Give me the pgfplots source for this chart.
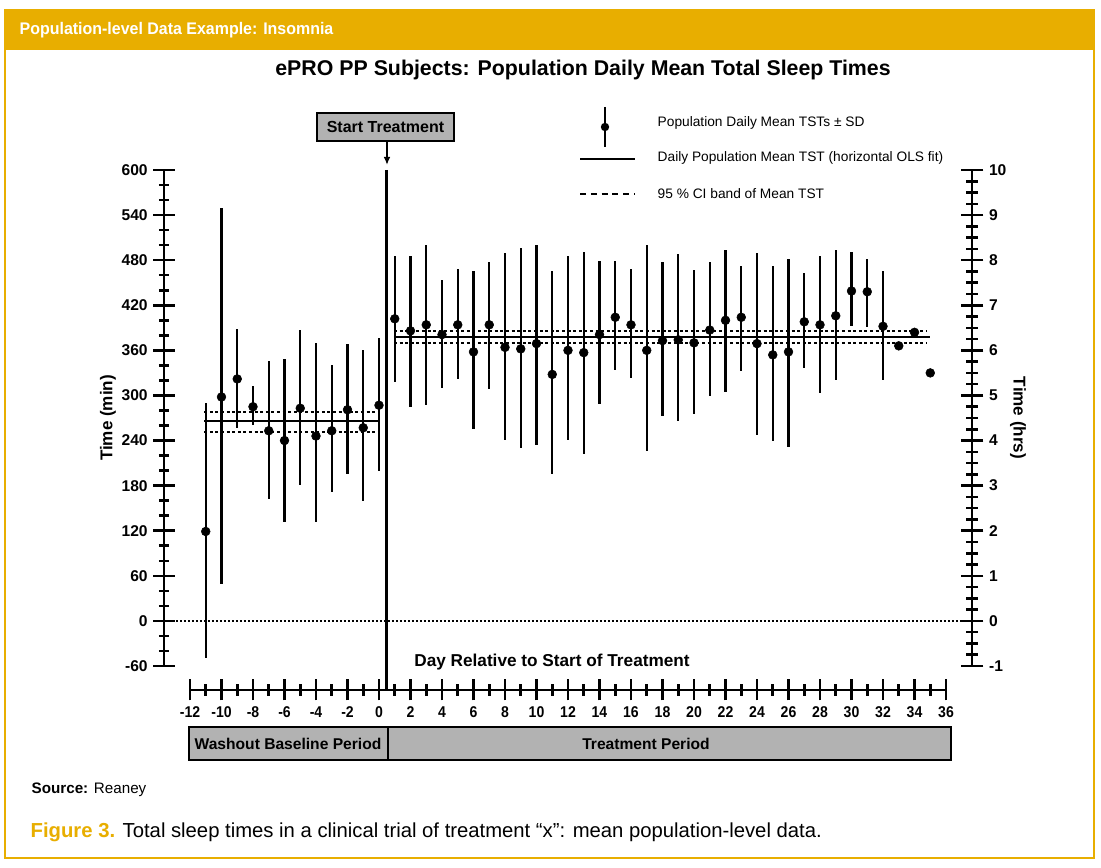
\documentclass[border=0pt]{standalone}
\usepackage{pgfplots}
\pgfplotsset{compat=1.18}
\usepackage{pgfplotstable}
\usetikzlibrary{arrows.meta}
\usepackage{fontspec}
\setmainfont{Liberation Sans}
\newfontfamily\cond[FakeStretch=0.9]{Liberation Sans}
\newfontfamily\hdr[FakeStretch=0.95]{Liberation Sans}
\definecolor{gold}{RGB}{232,174,0}
\definecolor{boxgray}{RGB}{178,178,178}
\pgfplotsset{
  thickticks/.style={
    line width=1.9pt,
    every tick/.style={line width=1.9pt, black},
    major tick style={line width=1.9pt, black},
    minor tick style={line width=1.9pt, black},
  }
}

\pgfplotstableread{
x y ep em
-11 119 171 169
-10 298 252 249
-9 322 66 65
-8 285 28 24
-7 253 93 91
-6 240 108 109
-5 283 104 102
-4 246 124 115
-3 253 88 82
-2 281 88 85
-1 257 104 98
0 287 90 87
}\baselinedata

\pgfplotstableread{
x y top bot
1 402 486 318
2 386 486 285
3 394 500 287
4 381 453 310
5 394 468 322
6 358 465 255
7 394 477 309
8 364 490 241
9 362 496 230
10 369 500 234
11 328 466 196
12 360 486 241
13 357 491 222
14 381 479 289
15 404 479 334
16 394 468 323
17 360 500 226
18 373 477 272
19 374 488 266
20 370 467 275
21 387 477 299
22 400 494 305
23 404 472 332
24 369 489 248
25 354 472 240
26 358 482 232
27 398 463 337
28 394 486 303
29 406 494 321
30 439 491 393
31 438 482 391
32 392 465 321
}\treatdata

\pgfplotstableread{
x y
33 366
34 384
35 330
}\treatnobar

\begin{document}
\begin{tikzpicture}[x=0.75pt,y=0.75pt]
\path[use as bounding box] (0,0) rectangle (1101,868);
\fill[white] (0,0) rectangle (1101,868);
\fill[gold] (5,858) rectangle (1094,818);
\draw[gold, line width=1.1pt] (5,858) rectangle (1094,10);
\node[anchor=west, text=white, font=\hdr\bfseries\fontsize{12.6}{14}\selectfont] at (15,838) {Population-level Data Example: Insomnia};
\node[font=\bfseries\fontsize{16}{19}\selectfont] at (583,798) {ePRO PP Subjects: Population Daily Mean Total Sleep Times};

% main data axis with left y axis (minutes)
\begin{axis}[
 at={(123pt,151.5pt)}, anchor=south west,
 scale only axis, width=606pt, height=372pt,
 xmin=-13.65, xmax=37.65, ymin=-60, ymax=600,
 axis x line=none, axis y line*=left,
 ytick={-60,0,...,600}, minor y tick num=2,
 yticklabels={-60,0,60,120,180,240,300,360,420,480,540,600},
 tick align=center,
 major tick length=16pt, minor tick length=7.5pt,
 thickticks,
 axis line style={line width=2.2pt, -},
 yticklabel style={font=\bfseries\fontsize{11.7}{13}\selectfont},
 clip=false,
]
\addplot[black, line width=1.1pt, dash pattern=on 1.5pt off 1.5pt] coordinates {(-13.4,0) (37.4,0)};
\addplot[black, line width=2.2pt] coordinates {(0.5,600) (0.5,-91)};
% fit lines
\addplot[black, line width=1.5pt] coordinates {(-11.1,266.5) (0.05,266.5)};
\addplot[black, line width=1.5pt, dash pattern=on 2.3pt off 1.9pt] coordinates {(-11.1,278.5) (0.05,278.5)};
\addplot[black, line width=1.5pt, dash pattern=on 2.3pt off 1.9pt] coordinates {(-11.1,251.4) (0.05,251.4)};
\addplot[black, line width=1.5pt] coordinates {(0.95,377.8) (35,377.8)};
\addplot[black, line width=1.5pt, dash pattern=on 2.3pt off 1.9pt] coordinates {(0.95,386.2) (34.8,386.2)};
\addplot[black, line width=1.5pt, dash pattern=on 2.3pt off 1.9pt] coordinates {(0.95,369.8) (34.8,369.8)};
% data
\addplot[only marks, mark=*, mark size=3.3pt, black, mark options={line width=0.4pt},
  error bars/.cd, y dir=both, y explicit, error mark=none,
  error bar style={line width=1.7pt}]
  table[x=x, y=y, y error plus=ep, y error minus=em] {\baselinedata};
\addplot[only marks, mark=*, mark size=3.3pt, black, mark options={line width=0.4pt},
  error bars/.cd, y dir=both, y explicit, error mark=none,
  error bar style={line width=1.7pt}]
  table[x=x, y=y, y error plus expr=\thisrow{top}-\thisrow{y}, y error minus expr=\thisrow{y}-\thisrow{bot}] {\treatdata};
\addplot[only marks, mark=*, mark size=3.3pt, black, mark options={line width=0.4pt}] table[x=x, y=y] {\treatnobar};
\end{axis}

% right y axis (hours)
\begin{axis}[
 at={(123pt,151.5pt)}, anchor=south west,
 scale only axis, width=606pt, height=372pt,
 xmin=-13.65, xmax=37.65, ymin=-1, ymax=10,
 axis x line=none, axis y line*=right,
 ytick={-1,0,...,10}, minor y tick num=3,
 yticklabels={-1,0,1,2,3,4,5,6,7,8,9,10},
 tick align=center,
 major tick length=17pt, minor tick length=8.7pt,
 thickticks,
 axis line style={line width=2.2pt, -},
 yticklabel style={font=\bfseries\fontsize{11.7}{13}\selectfont},
 clip=false,
]
\addplot[draw=none] coordinates {(0,0)};
\end{axis}

% x axis (days)
\begin{axis}[
 at={(142.5pt,133.5pt)}, anchor=south west,
 scale only axis, width=567pt, height=10pt,
 xmin=-12, xmax=36, ymin=0, ymax=1,
 axis y line=none, axis x line*=bottom,
 xtick={-12,-10,...,36}, minor x tick num=1,
 xticklabels={-12,-10,-8,-6,-4,-2,0,2,4,6,8,10,12,14,16,18,20,22,24,26,28,30,32,34,36},
 tick align=center,
 major tick length=15.75pt, minor tick length=9pt,
 thickticks,
 axis line style={line width=2.2pt, -},
 xticklabel style={font=\cond\bfseries\fontsize{11.7}{13}\selectfont, text height=8.6pt, text depth=0pt},
 clip=false,
]
\addplot[draw=none] coordinates {(0,0.5)};
\end{axis}

% axis labels
\node[rotate=90, font=\bfseries\fontsize{12.8}{15}\selectfont] at (108,450) {Time (min)};
\node[rotate=-90, font=\bfseries\fontsize{12.8}{15}\selectfont] at (1018,450) {Time (hrs)};
\node[font=\bfseries\fontsize{12.9}{15}\selectfont] at (552,206) {Day Relative to Start of Treatment};

% start treatment box and arrow
\draw[fill=boxgray, line width=0.8pt] (317,755) rectangle (454,727);
\node[font=\bfseries\fontsize{12}{14}\selectfont] at (385.5,741) {Start Treatment};
\draw[line width=1.2pt, -{Latex[length=6pt,width=5pt]}] (387,726) -- (387,703);

% legend
\draw[line width=1.5pt] (605,761) -- (605,721);
\fill (605,741) circle (4.2);
\node[anchor=west, font=\fontsize{10.3}{12}\selectfont] at (653,745) {Population Daily Mean TSTs ± SD};
\draw[line width=1.9pt] (580,709) -- (635,709);
\node[anchor=west, font=\fontsize{10.3}{12}\selectfont] at (653,710) {Daily Population Mean TST (horizontal OLS fit)};
\draw[line width=1.5pt, dash pattern=on 4.5pt off 3.6pt] (580,674) -- (635,674);
\node[anchor=west, font=\fontsize{10.3}{12}\selectfont] at (653,674) {95 \% CI band of Mean TST};

% period boxes
\draw[fill=boxgray, line width=0.8pt] (189,141) rectangle (388,108);
\draw[fill=boxgray, line width=0.8pt] (388,141) rectangle (951,108);
\node[font=\bfseries\fontsize{11.7}{13}\selectfont] at (288,124) {Washout Baseline Period};
\node[font=\bfseries\fontsize{11.7}{13}\selectfont] at (646,124) {Treatment Period};

% source and caption
\node[anchor=west, font=\fontsize{11.4}{13}\selectfont] at (27,78) {\textbf{Source:} Reaney};
\node[anchor=west, font=\fontsize{15.2}{18}\selectfont] at (26,36) {{\color{gold}\bfseries Figure 3.} Total sleep times in a clinical trial of treatment “x”: mean population-level data.};
\end{tikzpicture}
\end{document}
